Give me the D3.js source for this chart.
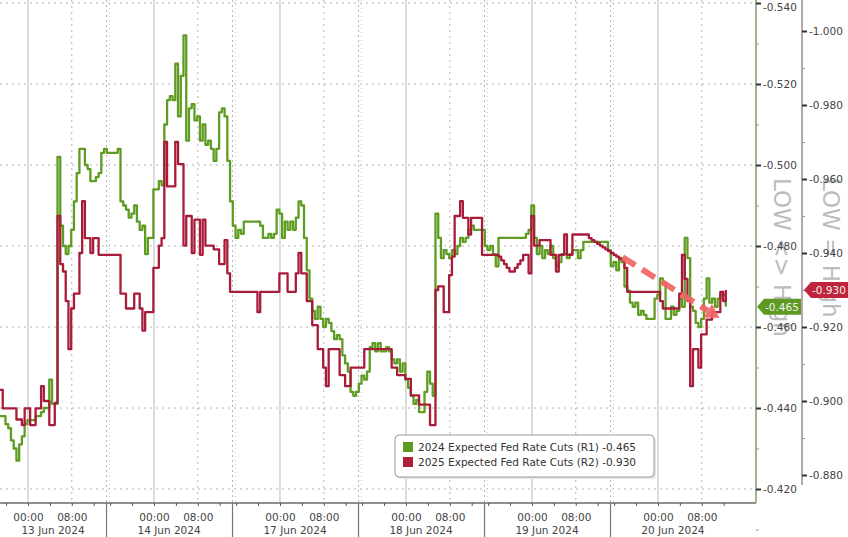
<!DOCTYPE html>
<html><head><meta charset="utf-8">
<script src="https://cdn.jsdelivr.net/npm/d3@7"></script>
<style>body{margin:0;background:#fff}svg{display:block}text{font-family:"DejaVu Sans",Verdana,sans-serif}</style>
</head><body><svg id="c" width="848" height="537"></svg>
<script>
// ---- data ----
const sessionLabels = ["13 Jun 2024","14 Jun 2024","17 Jun 2024","18 Jun 2024","19 Jun 2024","20 Jun 2024"];
const sessionHours = 23;          // trading hours per session
const midnightOffset = 8.75;      // trading hours from session open to 00:00
const timeLabels = ["00:00","08:00"];
const timeLabelHours = [0, 8];
const dataStart = 3.64;           // trading hours after first session open
const dataStep = 0.5;             // hours between observations
const seriesNames = ["2024 Expected Fed Rate Cuts (R1)","2025 Expected Fed Rate Cuts (R2)"];
const greenTicks = [-0.54,-0.52,-0.50,-0.48,-0.46,-0.44,-0.42];
const redTicks = [-1.00,-0.98,-0.96,-0.94,-0.92,-0.90,-0.88];
const rightTexts = ["LOW <> High","LOW = High"];
const green2024 = [
-0.438,-0.438,-0.436,-0.435,-0.432,-0.430,-0.427,-0.431,-0.433,-0.436,
-0.437,-0.437,-0.437,-0.438,-0.438,-0.439,-0.440,-0.440,-0.447,-0.441,
-0.441,-0.502,-0.485,-0.480,-0.478,-0.480,-0.484,-0.491,-0.498,-0.504,
-0.504,-0.500,-0.499,-0.496,-0.496,-0.497,-0.498,-0.503,-0.504,-0.503,
-0.503,-0.503,-0.503,-0.504,-0.491,-0.490,-0.489,-0.487,-0.488,-0.490,
-0.486,-0.484,-0.485,-0.478,-0.482,-0.482,-0.494,-0.494,-0.496,-0.495,
-0.510,-0.516,-0.517,-0.516,-0.525,-0.512,-0.522,-0.532,-0.506,-0.514,
-0.515,-0.511,-0.512,-0.506,-0.510,-0.505,-0.506,-0.504,-0.501,-0.504,
-0.513,-0.514,-0.512,-0.501,-0.491,-0.485,-0.482,-0.484,-0.483,-0.486,
-0.486,-0.486,-0.486,-0.486,-0.486,-0.485,-0.482,-0.482,-0.483,-0.482,
-0.483,-0.489,-0.488,-0.482,-0.486,-0.484,-0.486,-0.484,-0.487,-0.491,
-0.490,-0.482,-0.474,-0.467,-0.464,-0.462,-0.465,-0.462,-0.460,-0.462,
-0.461,-0.459,-0.457,-0.458,-0.457,-0.453,-0.451,-0.449,-0.444,-0.443,
-0.444,-0.446,-0.448,-0.447,-0.449,-0.455,-0.456,-0.454,-0.456,-0.454,
-0.454,-0.455,-0.454,-0.452,-0.451,-0.452,-0.449,-0.451,-0.447,-0.445,
-0.443,-0.441,-0.442,-0.439,-0.439,-0.444,-0.449,-0.446,-0.443,-0.488,
-0.482,-0.477,-0.479,-0.478,-0.477,-0.479,-0.478,-0.480,-0.482,-0.481,
-0.482,-0.484,-0.485,-0.484,-0.484,-0.484,-0.484,-0.480,-0.479,-0.480,
-0.478,-0.475,-0.482,-0.482,-0.482,-0.482,-0.482,-0.482,-0.482,-0.482,
-0.482,-0.482,-0.483,-0.484,-0.490,-0.482,-0.478,-0.480,-0.477,-0.479,
-0.478,-0.480,-0.477,-0.475,-0.476,-0.478,-0.478,-0.477,-0.478,-0.479,
-0.479,-0.477,-0.479,-0.481,-0.481,-0.481,-0.481,-0.481,-0.481,-0.481,
-0.481,-0.481,-0.479,-0.475,-0.476,-0.474,-0.477,-0.476,-0.470,-0.469,
-0.466,-0.465,-0.466,-0.463,-0.464,-0.463,-0.462,-0.462,-0.462,-0.467,
-0.468,-0.472,-0.471,-0.462,-0.462,-0.465,-0.463,-0.464,-0.467,-0.465,
-0.482,-0.477,-0.465,-0.464,-0.461,-0.460,-0.462,-0.467,-0.472,-0.466,
-0.467,-0.465,-0.467,-0.468,-0.468,-0.465];
const red2025 = [
-0.903,-0.898,-0.898,-0.898,-0.898,-0.898,-0.895,-0.895,-0.8935,-0.898,
-0.898,-0.8935,-0.8935,-0.898,-0.898,-0.904,-0.900,-0.900,-0.8935,-0.8935,
-0.8995,-0.950,-0.937,-0.935,-0.927,-0.914,-0.925,-0.929,-0.929,-0.940,
-0.954,-0.944,-0.944,-0.940,-0.944,-0.944,-0.9395,-0.9395,-0.9395,-0.9395,
-0.9395,-0.9395,-0.9395,-0.9395,-0.929,-0.929,-0.925,-0.925,-0.925,-0.929,
-0.929,-0.925,-0.919,-0.924,-0.924,-0.924,-0.936,-0.936,-0.942,-0.944,
-0.970,-0.958,-0.958,-0.958,-0.970,-0.964,-0.964,-0.942,-0.950,-0.950,
-0.940,-0.949,-0.949,-0.9395,-0.949,-0.942,-0.942,-0.942,-0.941,-0.941,
-0.937,-0.937,-0.9435,-0.9345,-0.9295,-0.9295,-0.9295,-0.9295,-0.9295,-0.9295,
-0.9295,-0.9295,-0.9295,-0.9295,-0.924,-0.9295,-0.9295,-0.9295,-0.9295,-0.9295,
-0.9295,-0.9295,-0.9345,-0.9345,-0.9345,-0.9295,-0.9295,-0.9295,-0.9345,-0.940,
-0.9345,-0.9345,-0.927,-0.927,-0.9205,-0.9205,-0.914,-0.914,-0.909,-0.904,
-0.914,-0.914,-0.914,-0.914,-0.907,-0.907,-0.904,-0.904,-0.909,-0.909,
-0.909,-0.909,-0.909,-0.914,-0.914,-0.914,-0.914,-0.914,-0.914,-0.914,
-0.914,-0.914,-0.914,-0.909,-0.909,-0.907,-0.907,-0.907,-0.906,-0.906,
-0.9015,-0.9015,-0.9015,-0.899,-0.899,-0.899,-0.899,-0.8935,-0.8935,-0.930,
-0.931,-0.931,-0.924,-0.924,-0.934,-0.939,-0.950,-0.950,-0.954,-0.9495,
-0.9495,-0.945,-0.9495,-0.9495,-0.9495,-0.9495,-0.9395,-0.9395,-0.9395,-0.9395,
-0.9395,-0.9395,-0.939,-0.938,-0.937,-0.936,-0.935,-0.935,-0.936,-0.937,
-0.938,-0.9395,-0.9395,-0.9345,-0.950,-0.942,-0.942,-0.9435,-0.9435,-0.9435,
-0.9435,-0.9395,-0.9395,-0.935,-0.9395,-0.9395,-0.945,-0.9395,-0.9395,-0.945,
-0.945,-0.945,-0.945,-0.945,-0.945,-0.944,-0.9435,-0.943,-0.9425,-0.942,
-0.9415,-0.941,-0.9405,-0.940,-0.9395,-0.939,-0.9385,-0.938,-0.936,-0.9295,
-0.9295,-0.9295,-0.9295,-0.9295,-0.9295,-0.9295,-0.9295,-0.9295,-0.9295,-0.9295,
-0.9295,-0.927,-0.925,-0.925,-0.925,-0.925,-0.925,-0.925,-0.929,-0.9395,
-0.933,-0.927,-0.904,-0.914,-0.914,-0.909,-0.918,-0.918,-0.922,-0.922,
-0.924,-0.924,-0.924,-0.9295,-0.927,-0.930];
const lastGreen = -0.465, lastRed = -0.930;
const arrowFrom = {t: 117.3, v: -0.4772};
const arrowTo = {t: 135.0, v: -0.4622};

// ---- layout ----
const svg = d3.select("#c");
const plotR = 756, plotB = 503, redAxisX = 802;
const x = d3.scaleLinear().domain([3.64, 141.47]).range([0, 755]);
const yG = d3.scaleLinear().domain([-0.54, -0.42]).range([3, 489]);
const yR = d3.scaleLinear().domain([-1.00, -0.88]).range([31, 475]);
const gridC = "#b4b4b4";

// horizontal gridlines
svg.append("g").selectAll("line").data(greenTicks).join("line")
  .attr("x1", 0).attr("x2", plotR).attr("y1", d => yG(d)).attr("y2", d => yG(d))
  .attr("stroke", gridC).attr("stroke-width", 1).attr("stroke-dasharray", "2,4");

// vertical gridlines
const sessIdx = d3.range(sessionLabels.length);
const [d0, d1] = x.domain();
const midT = d => midnightOffset + d * sessionHours;
svg.append("g").selectAll("line").data(sessIdx).join("line")
  .attr("x1", d => x(midT(d))).attr("x2", d => x(midT(d)))
  .attr("y1", 0).attr("y2", plotB).attr("stroke", "#c4c4c4").attr("stroke-width", 1.2);
svg.append("g").selectAll("line").data(sessIdx).join("line")
  .attr("x1", d => x(midT(d) + 8)).attr("x2", d => x(midT(d) + 8))
  .attr("y1", 0).attr("y2", plotB).attr("stroke", gridC).attr("stroke-dasharray", "2,4");
const bounds = sessIdx.map(d => (d + 1) * sessionHours).filter(t => t < d1 - 4);
svg.append("g").selectAll("line").data(bounds).join("line")
  .attr("x1", d => x(d) + 0.5).attr("x2", d => x(d) + 0.5)
  .attr("y1", 0).attr("y2", plotB).attr("stroke", gridC).attr("stroke-dasharray", "2,3");
svg.append("g").selectAll("line").data(bounds).join("line")
  .attr("x1", d => x(d) + 3.5).attr("x2", d => x(d) + 3.5)
  .attr("y1", 0).attr("y2", plotB).attr("stroke", "#d0d0d0").attr("stroke-dasharray", "1,3");

// series
const tOf = i => dataStart + i * dataStep;
const lineG = d3.line().x((d, i) => x(tOf(i))).y(d => yG(d)).curve(d3.curveStepAfter);
const lineR = d3.line().x((d, i) => x(tOf(i))).y(d => yR(d)).curve(d3.curveStepAfter);
svg.append("path").attr("d", lineG(green2024)).attr("fill", "none")
  .attr("stroke", "#5e9c22").attr("stroke-width", 2.3).attr("stroke-linejoin", "round");
svg.append("path").attr("d", lineR(red2025)).attr("fill", "none")
  .attr("stroke", "#a81c3a").attr("stroke-width", 2.3).attr("stroke-linejoin", "round");

// dashed arrow annotation
{
  const p0 = [x(arrowFrom.t), yG(arrowFrom.v)], p1 = [x(arrowTo.t), yG(arrowTo.v)];
  const ang = Math.atan2(p1[1] - p0[1], p1[0] - p0[0]);
  const hl = 14, hw = 8;
  const pb = [p1[0] - hl * Math.cos(ang), p1[1] - hl * Math.sin(ang)];
  svg.append("line").attr("x1", p0[0]).attr("y1", p0[1]).attr("x2", pb[0]).attr("y2", pb[1])
    .attr("stroke", "#f06464").attr("stroke-width", 6).attr("stroke-dasharray", "15,8").attr("opacity", 0.92);
  const n = [-Math.sin(ang), Math.cos(ang)];
  svg.append("path").attr("d", `M${p1[0]},${p1[1]}L${pb[0] + n[0] * hw},${pb[1] + n[1] * hw}L${pb[0] - n[0] * hw},${pb[1] - n[1] * hw}Z`)
    .attr("fill", "#f06464").attr("opacity", 0.92);
}

// bottom axis
svg.append("line").attr("x1", 0).attr("x2", plotR).attr("y1", plotB).attr("y2", plotB)
  .attr("stroke", "#6a6a6a").attr("stroke-width", 1.5);
const minorT = [];
sessIdx.forEach(d => [-8, -4, 0, 4, 8, 12].forEach(h => { const t = midT(d) + h; if (t > d0 && t < d1) minorT.push(t); }));
const xMinor = d3.axisBottom(x).tickValues(minorT).tickSize(3).tickFormat("");
const gm = svg.append("g").attr("transform", `translate(0,${plotB})`).call(xMinor);
gm.select(".domain").remove();
gm.selectAll("line").attr("stroke", "#555");
const lblT = [];
sessIdx.forEach(d => timeLabelHours.forEach((h, j) => lblT.push({t: midT(d) + h, s: timeLabels[j]})));
const xLab = d3.axisBottom(x).tickValues(lblT.map(d => d.t)).tickSize(0).tickPadding(11)
  .tickFormat((t, i) => lblT[i].s);
const gl = svg.append("g").attr("transform", `translate(0,${plotB})`).call(xLab);
gl.select(".domain").remove();
gl.selectAll("text").attr("font-size", "10.5px").attr("fill", "#444").attr("font-family", "DejaVu Sans");
svg.append("g").selectAll("line").data(bounds).join("line")
  .attr("x1", d => x(d) + 0.5).attr("x2", d => x(d) + 0.5).attr("y1", plotB).attr("y2", 537)
  .attr("stroke", "#777").attr("stroke-width", 1.2);
svg.append("g").selectAll("text").data(sessIdx).join("text")
  .attr("x", d => { const a = Math.max(d * sessionHours, d0), b = Math.min((d + 1) * sessionHours, d1 - 3.5); return (x(a) + x(b)) / 2; })
  .attr("y", 534).attr("text-anchor", "middle").attr("font-size", "10.5px").attr("fill", "#444")
  .text(d => sessionLabels[d]);

// right-side rotated captions
svg.append("g").selectAll("text").data(rightTexts).join("text")
  .attr("transform", (d, i) => `translate(${i ? 823 : 774},178) rotate(90)`)
  .attr("font-size", "23px").attr("fill", "#bcbcbc").text(d => d);

// green axis (R1)
svg.append("line").attr("x1", plotR).attr("x2", plotR).attr("y1", 0).attr("y2", plotB)
  .attr("stroke", "#8f9c7a").attr("stroke-width", 1.6);
const fmt = d => d.toFixed(3);
const gMinor = d3.range(-0.53, -0.41, 0.02);
const ga2 = svg.append("g").attr("transform", `translate(${plotR},0)`).call(d3.axisRight(yG).tickValues(gMinor).tickSize(3).tickFormat(""));
ga2.select(".domain").remove(); ga2.selectAll("line").attr("stroke", "#999");
const ga = svg.append("g").attr("transform", `translate(${plotR},0)`)
  .call(d3.axisRight(yG).tickValues(greenTicks).tickSize(5).tickPadding(2).tickFormat(fmt));
ga.select(".domain").remove();
ga.selectAll("line").attr("stroke", "#333").attr("stroke-width", 2);
ga.selectAll("text").attr("font-size", "10.5px").attr("fill", "#444").attr("font-family", "DejaVu Sans")
  .attr("dy", (d, i) => i === 0 ? "0.75em" : "0.32em");

// red axis (R2)
svg.append("line").attr("x1", redAxisX).attr("x2", redAxisX).attr("y1", 0).attr("y2", 485)
  .attr("stroke", "#a3939a").attr("stroke-width", 1.6);
const rMinor = d3.range(-0.99, -0.875, 0.02);
const ra2 = svg.append("g").attr("transform", `translate(${redAxisX},0)`).call(d3.axisRight(yR).tickValues(rMinor).tickSize(3).tickFormat(""));
ra2.select(".domain").remove(); ra2.selectAll("line").attr("stroke", "#999");
const ra = svg.append("g").attr("transform", `translate(${redAxisX},0)`)
  .call(d3.axisRight(yR).tickValues(redTicks).tickSize(5).tickPadding(2).tickFormat(fmt));
ra.select(".domain").remove();
ra.selectAll("line").attr("stroke", "#333").attr("stroke-width", 2);
ra.selectAll("text").attr("font-size", "10.5px").attr("fill", "#444").attr("font-family", "DejaVu Sans");

// last-value tags
function tag(x0, x1, yc, fill, label) {
  const h = 8;
  svg.append("path").attr("d", `M${x0},${yc}L${x0 + 7},${yc - h}L${x1},${yc - h}L${x1},${yc + h}L${x0 + 7},${yc + h}Z`)
    .attr("fill", fill);
  svg.append("text").attr("x", (x0 + x1) / 2 + 3).attr("y", yc + 4).attr("text-anchor", "middle")
    .attr("font-size", "10.5px").attr("fill", "#f2f2f2").text(label);
}
tag(plotR + 1, redAxisX - 1, yG(lastGreen), "#5c9a22", fmt(lastGreen));
tag(redAxisX + 2, 848, yR(lastRed), "#c0243c", fmt(lastRed));

// legend
const lg = svg.append("g").attr("transform", "translate(395,435)");
lg.append("rect").attr("x", 2).attr("y", 2).attr("width", 259).attr("height", 42).attr("rx", 4).attr("fill", "#e6e6e6");
lg.append("rect").attr("width", 259).attr("height", 42).attr("rx", 4).attr("fill", "#fff").attr("stroke", "#9a9a9a");
const lastVals = [lastGreen, lastRed], lcol = ["#5c9a22", "#b0203a"];
seriesNames.forEach((s, i) => {
  lg.append("rect").attr("x", 8).attr("y", 7 + i * 15).attr("width", 10).attr("height", 10).attr("fill", lcol[i]);
  lg.append("text").attr("x", 23).attr("y", 16 + i * 15).attr("font-size", "10.5px").attr("fill", "#333")
    .text(s + "  " + fmt(lastVals[i]));
});
</script></body></html>
